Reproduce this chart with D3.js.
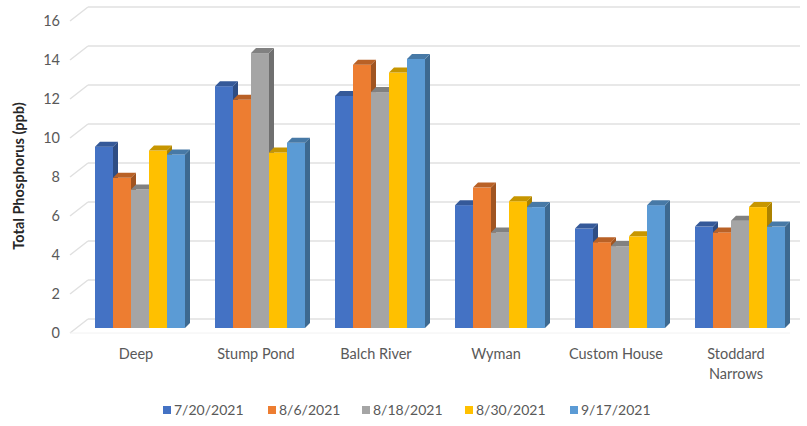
<!DOCTYPE html>
<html>
<head>
<meta charset="utf-8">
<script src="https://cdn.jsdelivr.net/npm/d3@7"></script>
<style>
  html, body { margin: 0; padding: 0; background: #fff; }
  svg { display: block; font-family: Lato, "Open Sans", sans-serif; }
</style>
</head>
<body>
<svg id="chart" width="807" height="426"></svg>
<script>
const categories = ["Deep", "Stump Pond", "Balch River", "Wyman", "Custom House", "Stoddard Narrows"];
const seriesNames = ["7/20/2021", "8/6/2021", "8/18/2021", "8/30/2021", "9/17/2021"];
const seriesColors = ["#4472C4", "#ED7D31", "#A5A5A5", "#FFC000", "#5B9BD5"];
const s0720 = [9.3, 12.4, 11.9, 6.3, 5.1, 5.2];
const s0806 = [7.7, 11.7, 13.5, 7.2, 4.4, 4.9];
const s0818 = [7.1, 14.1, 12.1, 4.9, 4.2, 5.5];
const s0830 = [9.1, 9.0, 13.1, 6.5, 4.7, 6.2];
const s0917 = [8.9, 9.5, 13.8, 6.2, 6.3, 5.2];
const seriesValues = [s0720, s0806, s0818, s0830, s0917];
const yTicks = [0, 2, 4, 6, 8, 10, 12, 14, 16];
const yTitle = "Total Phosphorus (ppb)";

const svg = d3.select("#chart");
const y = d3.scaleLinear().domain([0, 16]).range([333, 21]);
const x0 = d3.scaleBand().domain(categories).range([80, 800]).paddingInner(0.25).paddingOuter(0.125);
const x1 = d3.scaleBand().domain(seriesNames).range([0, x0.bandwidth()]);

// 3D geometry
const wallDx = 18, wallDy = -14;  // full depth offset (front -> back wall)
const barOffY = -5;               // bars set back into the floor
const barDx = 5, barDy = -5;      // bar depth

// gridlines: left wall diagonal + back wall
const grid = svg.append("g");
yTicks.forEach(t => {
  const yf = y(t);
  grid.append("line").attr("x1", 70).attr("y1", yf).attr("x2", 70 + wallDx).attr("y2", yf + wallDy)
    .attr("stroke", "#e0e0e0").attr("stroke-width", 1.5);
  grid.append("line").attr("x1", 70 + wallDx).attr("y1", yf + wallDy).attr("x2", 800).attr("y2", yf + wallDy)
    .attr("stroke", "#e0e0e0").attr("stroke-width", 1.5);
});
grid.append("line").attr("x1", 70).attr("y1", y(0)).attr("x2", 790).attr("y2", y(0))
  .attr("stroke", "#f2f2f2").attr("stroke-width", 1);

// y tick labels
svg.append("g").selectAll("text").data(yTicks).join("text")
  .attr("x", 60).attr("y", d => y(d)).attr("dy", "0.35em")
  .attr("text-anchor", "end").attr("font-size", 14.5).attr("fill", "#595959")
  .text(d => d);

// y title
svg.append("text")
  .attr("transform", "translate(24,176) rotate(-90)")
  .attr("text-anchor", "middle").attr("font-size", 14.5).attr("font-weight", "bold").attr("fill", "#262626")
  .text(yTitle);

// bars
const bars = svg.append("g");
categories.forEach((cat, ci) => {
  seriesNames.forEach((sn, si) => {
    const v = seriesValues[si][ci];
    const c = seriesColors[si];
    const xl = x0(cat) + x1(sn);
    const xr = xl + x1.bandwidth();
    const yt = y(v) + barOffY;
    const yb = y(0) + barOffY;
    const g = bars.append("g");
    g.append("path")
      .attr("d", `M${xr},${yt}L${xr + barDx},${yt + barDy}L${xr + barDx},${yb + barDy}L${xr},${yb}Z`)
      .attr("fill", d3.color(c).darker(1.1).formatHex());
    g.append("rect").attr("x", xl).attr("y", yt).attr("width", x1.bandwidth()).attr("height", yb - yt)
      .attr("fill", c);
    g.append("path")
      .attr("d", `M${xl},${yt}L${xl + barDx},${yt + barDy}L${xr + barDx},${yt + barDy}L${xr},${yt}Z`)
      .attr("fill", d3.color(c).darker(0.7).formatHex());
  });
});

// category labels
const catLabels = svg.append("g");
categories.forEach(cat => {
  const cx = x0(cat) + x0.bandwidth() / 2 - 4;
  const words = cat === "Stoddard Narrows" ? ["Stoddard", "Narrows"] : [cat];
  const t = catLabels.append("text").attr("x", cx).attr("y", 359)
    .attr("text-anchor", "middle").attr("font-size", 14.5).attr("fill", "#595959");
  words.forEach((w, i) => t.append("tspan").attr("x", cx).attr("dy", i === 0 ? 0 : 20).text(w));
});

// legend
const legendX = [163, 268, 362, 465, 570];
const legend = svg.append("g");
seriesNames.forEach((sn, i) => {
  legend.append("rect").attr("x", legendX[i]).attr("y", 406).attr("width", 8).attr("height", 8)
    .attr("fill", seriesColors[i]);
  legend.append("text").attr("x", legendX[i] + 11).attr("y", 415)
    .attr("font-size", 14).attr("fill", "#595959").text(sn);
});
</script>
</body>
</html>
